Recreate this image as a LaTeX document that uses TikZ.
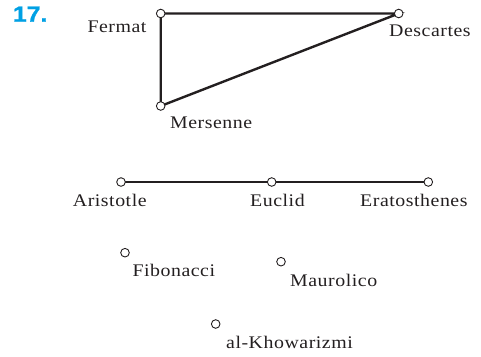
\documentclass[tikz,border=0pt]{standalone}
\usepackage{fontspec}
\setmainfont{Liberation Serif}[LetterSpace=3,FakeStretch=1.12]
\newfontfamily\numfont{Liberation Sans}[FakeBold=1.2,FakeStretch=1.13]
\definecolor{numblue}{RGB}{0,160,228}
\definecolor{ink}{RGB}{35,31,32}
\begin{document}
\begin{tikzpicture}[x=1bp,y=1bp,
  vtx/.style={circle,draw=ink,fill=white,line width=0.9bp,minimum size=8.6bp,inner sep=0pt},
  edge/.style={draw=ink,line width=2.4bp},
  lbl/.style={anchor=base west,inner sep=0pt,text=ink,font=\fontsize{17.8}{20}\selectfont}]
\useasboundingbox (0,0) rectangle (481,356);
\node[anchor=base west,inner sep=0pt,text=numblue,font=\numfont\bfseries\fontsize{22}{24}\selectfont] (num) at (12.8,334.3) {17.};
% vertices
\coordinate (Fc) at (160.7,342.5);
\coordinate (Mc) at (160.7,250);
\coordinate (Dc) at (398.7,342.5);
\coordinate (Ac) at (121,174);
\coordinate (Ec) at (271.7,174);
\coordinate (Rc) at (428.3,174);
\coordinate (Bc) at (125,103.3);
\coordinate (Uc) at (281,94.3);
\coordinate (Kc) at (215.7,32);
\draw[edge] (Fc) -- (Dc) -- (Mc) -- (Fc);
\draw[edge] (Ac) -- (Ec) -- (Rc);
\node[vtx] (F) at (Fc) {};
\node[vtx] (M) at (Mc) {};
\node[vtx] (D) at (Dc) {};
\node[vtx] (A) at (Ac) {};
\node[vtx] (E) at (Ec) {};
\node[vtx] (R) at (Rc) {};
\node[vtx] (B) at (Bc) {};
\node[vtx] (U) at (Uc) {};
\node[vtx] (K) at (Kc) {};
% labels
\node[lbl] (Fl) at (87.3,323.3) {Fermat};
\node[lbl] (Ml) at (170,227.5) {Mersenne};
\node[lbl] (Dl) at (389,320) {Descartes};
\node[lbl] (Al) at (72.7,149.3) {Aristotle};
\node[lbl] (El) at (250,149.3) {Euclid};
\node[lbl] (Rl) at (360,149.3) {Eratosthenes};
\node[lbl] (Bl) at (132.3,79.3) {Fibonacci};
\node[lbl] (Ul) at (290,70) {Maurolico};
\node[lbl] (Kl) at (226,7.7) {al-Khowarizmi};
\end{tikzpicture}
\end{document}
